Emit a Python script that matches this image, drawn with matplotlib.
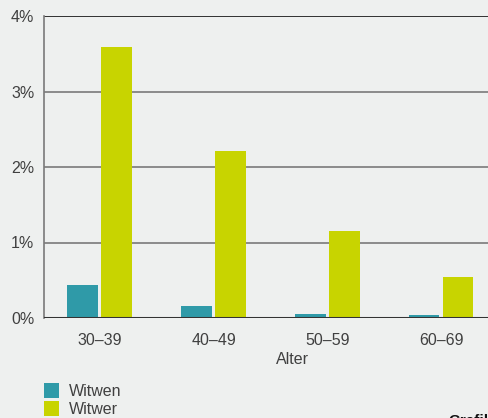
import matplotlib.pyplot as plt
import numpy as np

plt.rcParams['font.family'] = ['Liberation Sans', 'DejaVu Sans']

# data
groups = ['30–39', '40–49', '50–59', '60–69']
witwen = [0.44, 0.16, 0.05, 0.04]
witwer = [3.59, 2.21, 1.15, 0.54]
yticks = [0, 1, 2, 3, 4]

bg = '#eef0ef'
teal = '#2f9aa8'
lime = '#c8d400'
txt = '#404040'

fig = plt.figure(figsize=(4.89, 4.18), dpi=100, facecolor=bg)
ax = fig.add_axes([44/489, 1-318/418, (540-44)/489, (318-16)/418])
ax.set_facecolor(bg)

x = np.arange(len(groups))
w = 0.27
ax.bar(x-0.15, witwen, w, color=teal, label='Witwen', zorder=3)
ax.bar(x+0.15, witwer, w, color=lime, label='Witwer', zorder=3)

ax.set_xlim(-0.49, (540-100)/113.7)
ax.set_ylim(0, 4)

for v in yticks[1:4]:
    ax.axhline(v, color='#7a7a7a', lw=1.2, zorder=1)
ax.axhline(4, color='#111111', lw=1.2, zorder=1)
ax.axhline(0, color='#333333', lw=2.2, zorder=4)

for s in ['top', 'right', 'bottom']:
    ax.spines[s].set_visible(False)
ax.spines['left'].set_color('#7a7a7a')
ax.spines['left'].set_linewidth(1.2)

ax.set_yticks(yticks)
ax.set_yticklabels([f'{v}%' for v in yticks])
ax.set_xticks(x)
ax.set_xticklabels(groups)
ax.tick_params(length=0, labelsize=11.5, colors=txt)
ax.tick_params(axis='x', pad=11)
ax.tick_params(axis='y', pad=7)
ax.set_xlabel('Alter', fontsize=11.5, color=txt, labelpad=3)

fig.legend(loc='upper left', bbox_to_anchor=(44/489, 1-383/418), frameon=False,
           fontsize=11.5, handlelength=0.95, handleheight=1.05, labelspacing=0.12,
           handletextpad=0.6, borderpad=0, borderaxespad=0, labelcolor=txt)

fig.text(448/489, 1-428/418, 'Grafik', fontsize=11, fontweight='bold', color='#111111', va='bottom')

fig.savefig('out.png', dpi=100, facecolor=bg)
